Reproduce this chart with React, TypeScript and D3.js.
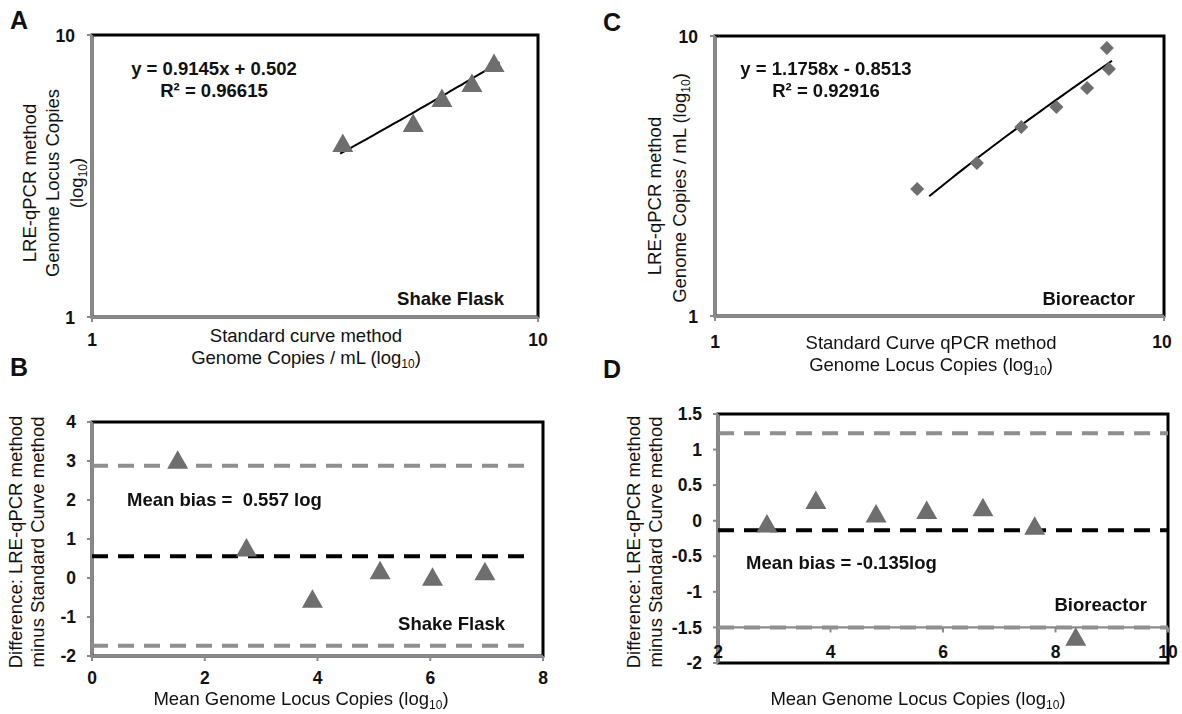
import React from 'react';
import * as d3 from 'd3';

// ---- Data ----
// Panel A: Shake Flask correlation (log10 values on log axes)
const sfStdX = [3.65, 5.25, 6.09, 7.11, 7.97];
const sfLreY = [4.14, 4.87, 5.98, 6.76, 7.96];
const sfFitCoef = [0.9145, 0.502];
const sfFitRange = [3.6, 8.2];

// Panel C: Bioreactor correlation
const brStdX = [2.82, 3.83, 4.81, 5.76, 6.74, 7.46, 7.54];
const brLreY = [2.84, 3.52, 4.73, 5.58, 6.52, 9.06, 7.62];
const brFitCoef = [1.1758, -0.8513];
const brFitRange = [3.0, 7.66];

// Panel B: Bland-Altman Shake Flask
const baSfMean = [1.52, 2.74, 3.91, 5.11, 6.04, 6.97];
const baSfDiff = [3.03, 0.78, -0.53, 0.2, 0.03, 0.17];
const baSfLines = [2.88, 0.557, -1.74]; // upper LoA, mean bias, lower LoA
const baSfLineRange = [0, 7.8];

// Panel D: Bland-Altman Bioreactor
const baBrMean = [2.87, 3.74, 4.81, 5.71, 6.71, 7.63, 8.36];
const baBrDiff = [-0.04, 0.29, 0.1, 0.15, 0.19, -0.07, -1.63];
const baBrLines = [1.23, -0.135, -1.5];
const baBrLineRange = [2, 10];

// Tick labels
const logTicks = [1, 10];
const bYTicks = [-2, -1, 0, 1, 2, 3, 4];
const bXTicks = [0, 2, 4, 6, 8];
const dYTicks = [-2, -1.5, -1, -0.5, 0, 0.5, 1, 1.5];
const dXTicks = [2, 4, 6, 8, 10];

const FONT = "'Liberation Sans', Arial, Helvetica, sans-serif";
const MARK = '#6e6e6e';
const AXIS = '#8a8a8a';
const DASHG = '#8f8f8f';

const TRI = 'M0,-9.5L10.5,9L-10.5,9Z';
const DIA = 'M0,-7L7,0L0,7L-7,0Z';

function T({ x, y, size = 18.5, bold = false, anchor = 'middle', children, rotate = false, pre = false }: any) {
  const off = size * 0.355;
  if (rotate) {
    return (
      <text
        transform={`translate(${x},${y}) rotate(-90)`}
        x={0}
        y={off}
        fontSize={size}
        fontWeight={bold ? 'bold' : 'normal'}
        textAnchor={anchor}
        fontFamily={FONT}
        fill="#111"
        style={pre ? { whiteSpace: 'pre' } : undefined}
      >
        {children}
      </text>
    );
  }
  return (
    <text
      x={x}
      y={y + off}
      fontSize={size}
      fontWeight={bold ? 'bold' : 'normal'}
      textAnchor={anchor}
      fontFamily={FONT}
      fill="#111"
      style={pre ? { whiteSpace: 'pre' } : undefined}
    >
      {children}
    </text>
  );
}

const Sub = ({ t }: any) => (
  <>
    <tspan fontSize={12} dy={4}>{t}</tspan>
    <tspan dy={-4}>)</tspan>
  </>
);

function Box({ x0, x1, y0, y1, blackBottom = false }: any) {
  return (
    <g>
      <rect x={x0} y={y0} width={x1 - x0} height={y1 - y0} fill="none" stroke="#000" strokeWidth={3} />
      <line x1={x0} x2={x0} y1={y0} y2={y1} stroke={AXIS} strokeWidth={2.6} />
      {!blackBottom && <line x1={x0} x2={x1} y1={y1} y2={y1} stroke={AXIS} strokeWidth={2.6} />}
    </g>
  );
}

function fitPath(coef: number[], range: number[], xs: any, ys: any) {
  const pts = d3.range(0, 41).map((i) => {
    const x = range[0] + ((range[1] - range[0]) * i) / 40;
    return [xs(x), ys(coef[0] * x + coef[1])] as [number, number];
  });
  return d3.line()(pts) || '';
}

export default function App() {
  const xA = d3.scaleLog().domain([1, 10]).range([92, 538]);
  const yA = d3.scaleLog().domain([1, 10]).range([317, 35]);
  const xC = d3.scaleLog().domain([1, 10]).range([715, 1164]);
  const yC = d3.scaleLog().domain([1, 10]).range([316, 36]);
  const xB = d3.scaleLinear().domain([0, 8]).range([92, 543]);
  const yB = d3.scaleLinear().domain([-2, 4]).range([656, 422]);
  const xD = d3.scaleLinear().domain([2, 10]).range([718, 1168]);
  const yD = d3.scaleLinear().domain([-2, 1.5]).range([663, 414]);

  const dashStyles = ['g', 'k', 'g'];
  const DASH = '16 10';

  return (
    <svg width={1182} height={714} style={{ position: 'absolute', left: 0, top: 0, background: '#fff' }}>
      <defs>
        <filter id="soft" x="-30%" y="-30%" width="160%" height="160%">
          <feGaussianBlur stdDeviation={0.7} />
        </filter>
      </defs>
      <rect x={0} y={0} width={1182} height={714} fill="#fff" />

      {/* Panel letters */}
      <T x={19} y={20} size={25} bold>A</T>
      <T x={19} y={367} size={25} bold>B</T>
      <T x={612} y={22} size={25} bold>C</T>
      <T x={612} y={369} size={25} bold>D</T>

      {/* ===== Panel A ===== */}
      <Box x0={xA.range()[0]} x1={xA.range()[1]} y0={yA.range()[1]} y1={yA.range()[0]} />
      {logTicks.map((t) => (
        <g key={'ay' + t}>
          <line x1={xA(1) - 5} x2={xA(1)} y1={yA(t)} y2={yA(t)} stroke={AXIS} strokeWidth={2} />
          <T x={75} y={yA(t) + 1} size={17.5} bold anchor="end">{t}</T>
        </g>
      ))}
      {logTicks.map((t) => (
        <g key={'ax' + t}>
          <line x1={xA(t)} x2={xA(t)} y1={yA(1)} y2={yA(1) + 5} stroke={AXIS} strokeWidth={2} />
          <T x={xA(t)} y={340} size={17.5} bold>{t}</T>
        </g>
      ))}
      <path d={fitPath(sfFitCoef, sfFitRange, xA, yA)} fill="none" stroke="#000" strokeWidth={2} />
      <g filter="url(#soft)">
        {sfStdX.map((v, i) => (
          <path key={i} d={TRI} transform={`translate(${xA(v)},${yA(sfLreY[i])})`} fill={MARK} />
        ))}
      </g>
      <T x={214} y={68} bold>y = 0.9145x + 0.502</T>
      <T x={214} y={90} bold>R² = 0.96615</T>
      <T x={504} y={298} bold anchor="end">Shake Flask</T>
      <T x={306} y={335}>Standard curve method</T>
      <T x={306} y={357}>
        Genome Copies / mL (log<Sub t="10" />
      </T>
      <T x={29} y={183} rotate>LRE-qPCR method</T>
      <T x={52} y={183} rotate>Genome Locus Copies</T>
      <T x={76} y={183} rotate>
        (log<Sub t="10" />
      </T>

      {/* ===== Panel C ===== */}
      <Box x0={xC.range()[0]} x1={xC.range()[1]} y0={yC.range()[1]} y1={yC.range()[0]} />
      {logTicks.map((t) => (
        <g key={'cy' + t}>
          <line x1={xC(1) - 5} x2={xC(1)} y1={yC(t)} y2={yC(t)} stroke={AXIS} strokeWidth={2} />
          <T x={698} y={yC(t) + 1} size={17.5} bold anchor="end">{t}</T>
        </g>
      ))}
      {logTicks.map((t) => (
        <g key={'cx' + t}>
          <line x1={xC(t)} x2={xC(t)} y1={yC(1)} y2={yC(1) + 5} stroke={AXIS} strokeWidth={2} />
          <T x={t === 10 ? xC(t) - 2 : xC(t)} y={342} size={17.5} bold>{t}</T>
        </g>
      ))}
      <path d={fitPath(brFitCoef, brFitRange, xC, yC)} fill="none" stroke="#000" strokeWidth={2} />
      <g filter="url(#soft)">
        {brStdX.map((v, i) => (
          <path key={i} d={DIA} transform={`translate(${xC(v)},${yC(brLreY[i])})`} fill={MARK} />
        ))}
      </g>
      <T x={826} y={68} bold>y = 1.1758x - 0.8513</T>
      <T x={826} y={90} bold>R² = 0.92916</T>
      <T x={1135} y={298} bold anchor="end">Bioreactor</T>
      <T x={931} y={342}>Standard Curve qPCR method</T>
      <T x={931} y={364}>
        Genome Locus Copies (log<Sub t="10" />
      </T>
      <T x={654} y={196} rotate>LRE-qPCR method</T>
      <T x={679} y={188} rotate>
        Genome Copies / mL (log<Sub t="10" />
      </T>

      {/* ===== Panel B ===== */}
      <Box x0={xB.range()[0]} x1={xB.range()[1]} y0={yB.range()[1]} y1={yB.range()[0]} />
      {bYTicks.map((t) => (
        <g key={'by' + t}>
          <line x1={xB(0) - 5} x2={xB(0)} y1={yB(t)} y2={yB(t)} stroke={AXIS} strokeWidth={2} />
          <T x={76} y={yB(t)} size={17.5} bold anchor="end">{t}</T>
        </g>
      ))}
      {bXTicks.map((t) => (
        <g key={'bx' + t}>
          <line x1={xB(t)} x2={xB(t)} y1={yB(-2)} y2={yB(-2) + 5} stroke={AXIS} strokeWidth={2} />
          <T x={xB(t)} y={678} size={17.5} bold>{t}</T>
        </g>
      ))}
      {baSfLines.map((v, i) => (
        <line
          key={'bl' + i}
          x1={xB(baSfLineRange[0])}
          x2={xB(baSfLineRange[1])}
          y1={yB(v)}
          y2={yB(v)}
          stroke={dashStyles[i] === 'k' ? '#000' : DASHG}
          strokeWidth={4}
          strokeDasharray={DASH}
        />
      ))}
      <g filter="url(#soft)">
        {baSfMean.map((v, i) => (
          <path key={i} d={TRI} transform={`translate(${xB(v)},${yB(baSfDiff[i])})`} fill={MARK} />
        ))}
      </g>
      <T x={127} y={499} bold anchor="start" pre>Mean bias =  0.557 log</T>
      <T x={505} y={623} bold anchor="end">Shake Flask</T>
      <T x={301} y={698}>
        Mean Genome Locus Copies (log<Sub t="10" />
      </T>
      <T x={15} y={542} rotate>Difference: LRE-qPCR method</T>
      <T x={37} y={542} rotate>minus Standard Curve method</T>

      {/* ===== Panel D ===== */}
      <Box x0={xD.range()[0]} x1={xD.range()[1]} y0={yD.range()[1]} y1={yD.range()[0]} blackBottom />
      {dYTicks.map((t) => (
        <g key={'dy' + t}>
          <line x1={xD(2) - 5} x2={xD(2)} y1={yD(t)} y2={yD(t)} stroke={AXIS} strokeWidth={2} />
          <T x={702} y={yD(t)} size={17.5} bold anchor="end">{t}</T>
        </g>
      ))}
      <line x1={xD(2)} x2={xD(10)} y1={yD(-1.5)} y2={yD(-1.5)} stroke={AXIS} strokeWidth={2.2} />
      {dXTicks.map((t) => (
        <g key={'dx' + t}>
          <line x1={xD(t)} x2={xD(t)} y1={yD(-1.5)} y2={yD(-1.5) + 5} stroke={AXIS} strokeWidth={2} />
        </g>
      ))}
      {baBrLines.map((v, i) => (
        <line
          key={'dl' + i}
          x1={xD(baBrLineRange[0])}
          x2={xD(baBrLineRange[1])}
          y1={yD(v)}
          y2={yD(v)}
          stroke={dashStyles[i] === 'k' ? '#000' : DASHG}
          strokeWidth={4}
          strokeDasharray={DASH}
        />
      ))}
      {dXTicks.map((t) => (
        <T key={'dxl' + t} x={xD(t)} y={652} size={17.5} bold>{t}</T>
      ))}
      <g filter="url(#soft)">
        {baBrMean.map((v, i) => (
          <path key={i} d={TRI} transform={`translate(${xD(v)},${yD(baBrDiff[i])})`} fill={MARK} />
        ))}
      </g>
      <T x={746} y={562} bold anchor="start">Mean bias = -0.135log</T>
      <T x={1147} y={604} bold anchor="end">Bioreactor</T>
      <T x={918} y={698}>
        Mean Genome Locus Copies (log<Sub t="10" />
      </T>
      <T x={633} y={542} rotate>Difference: LRE-qPCR method</T>
      <T x={655} y={542} rotate>minus Standard Curve method</T>
    </svg>
  );
}
